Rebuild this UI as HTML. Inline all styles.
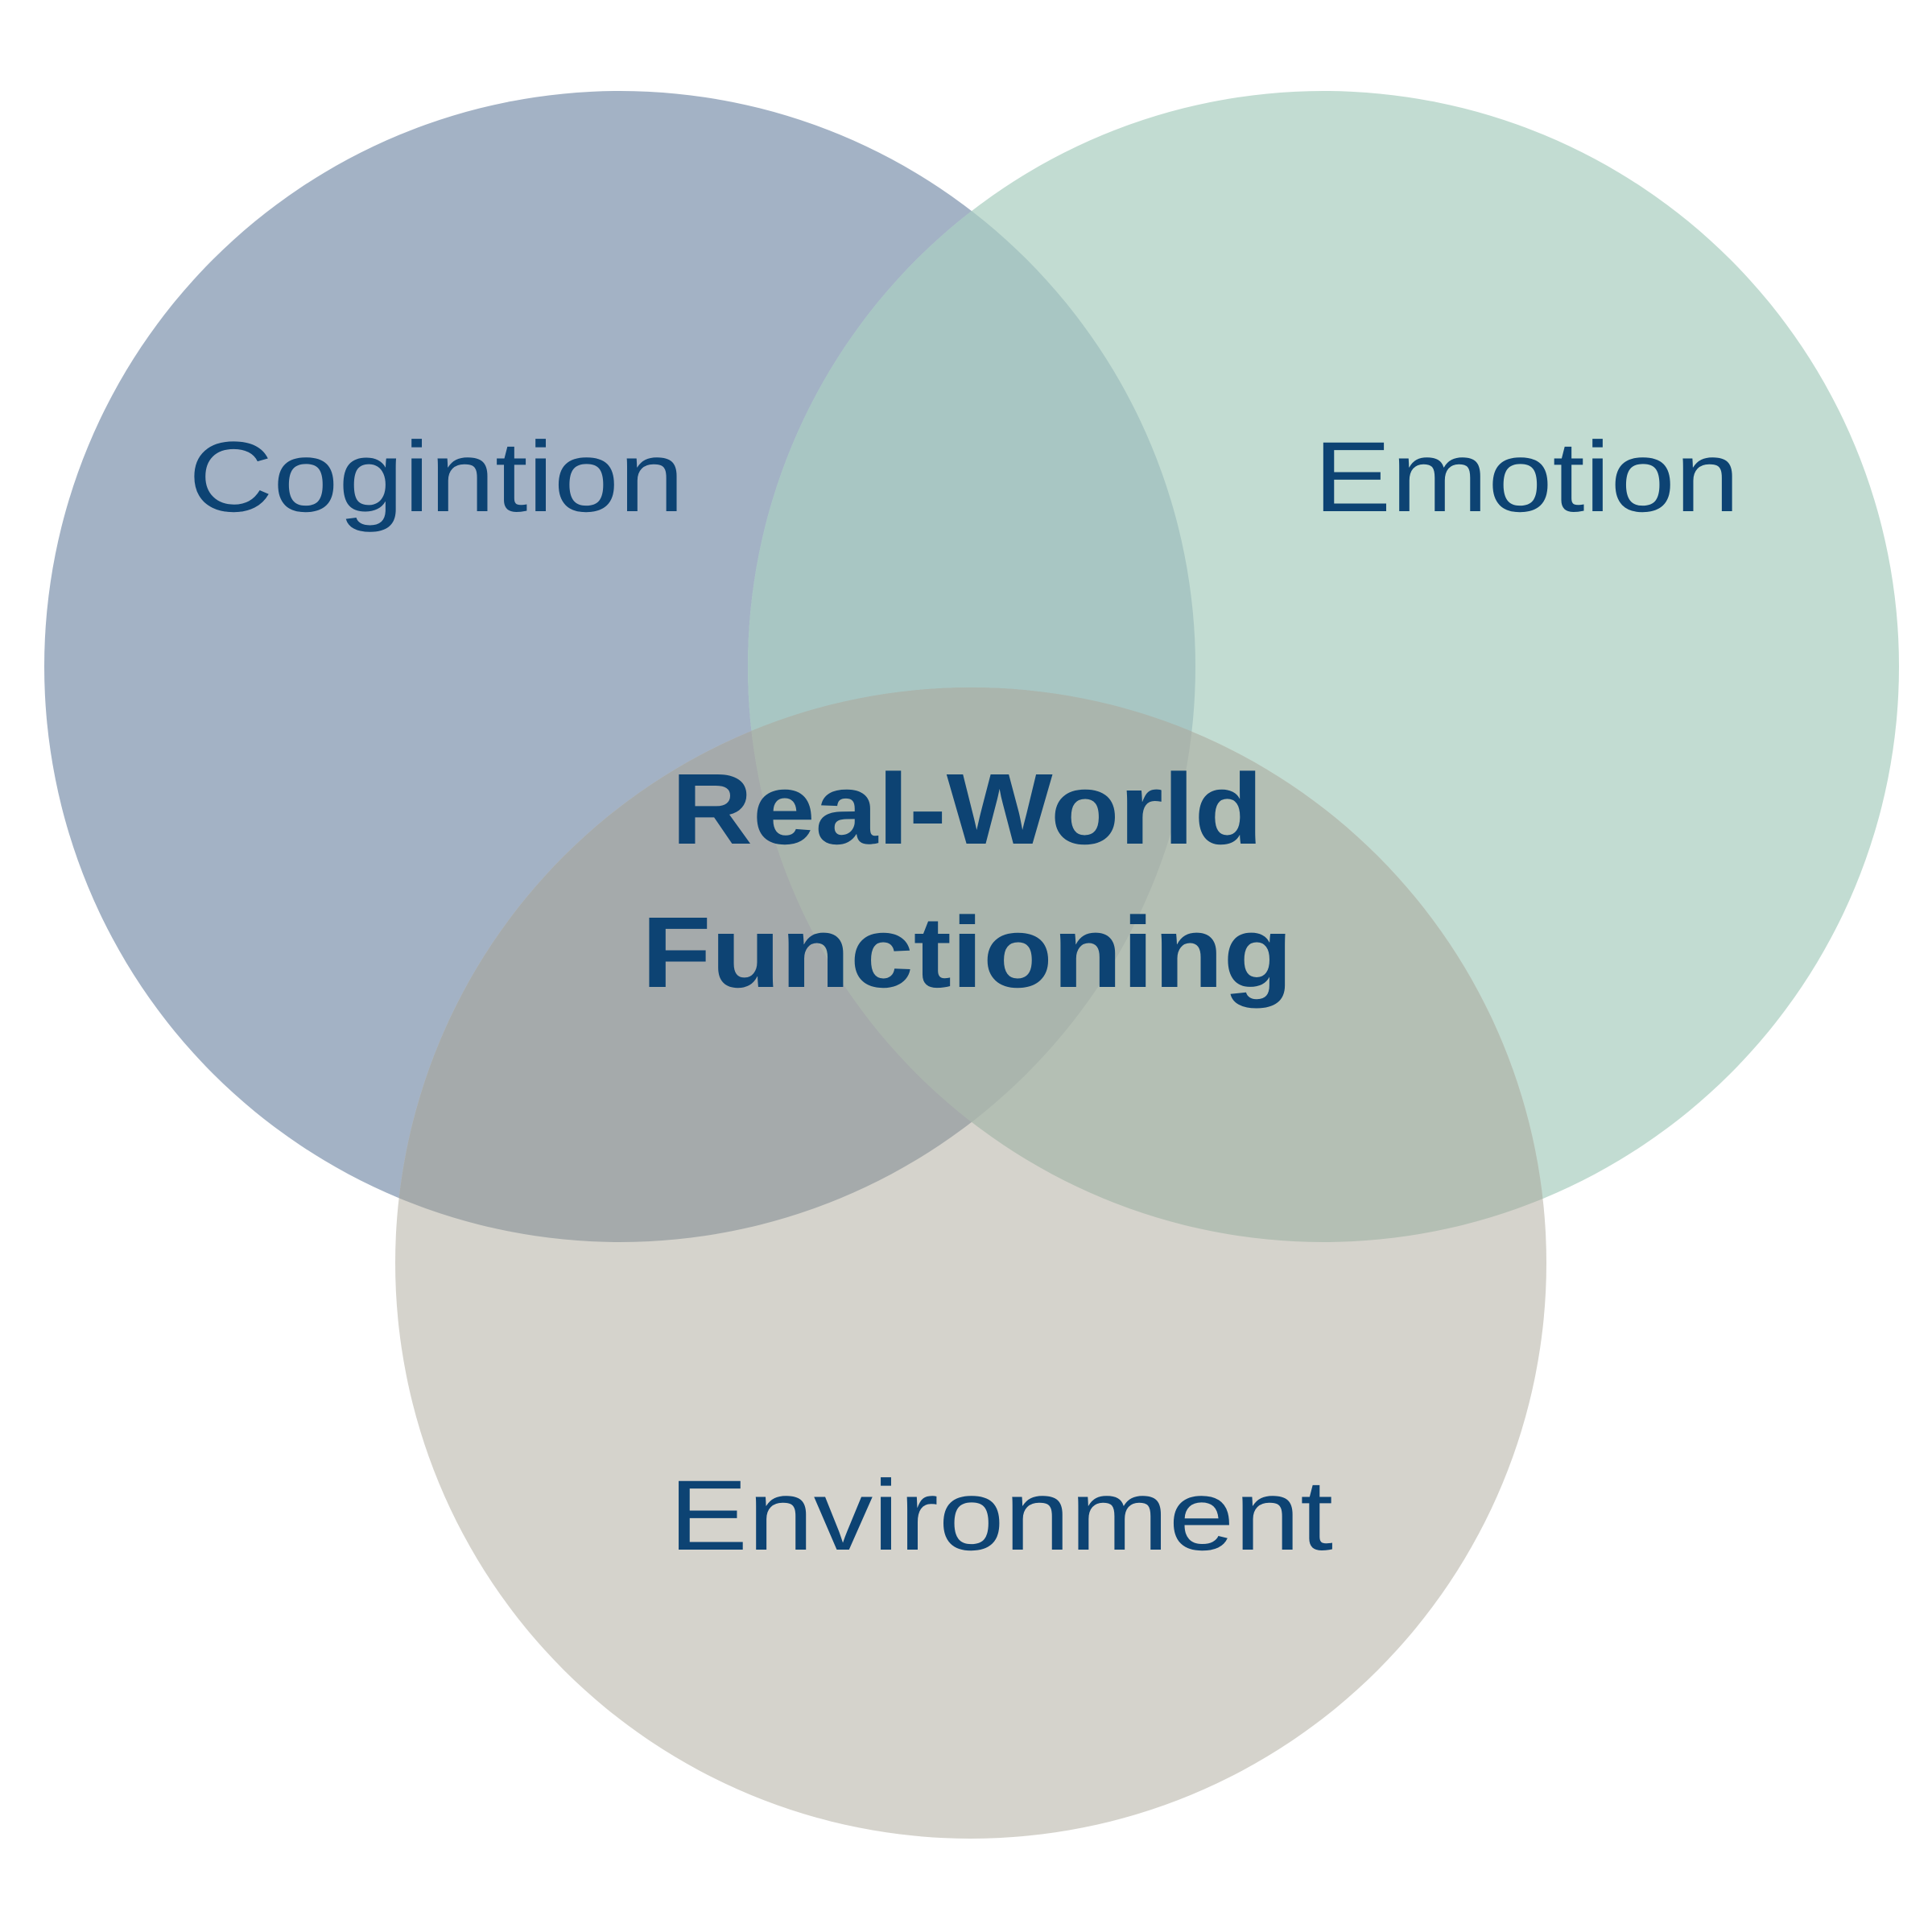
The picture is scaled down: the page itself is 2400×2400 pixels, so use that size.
<!DOCTYPE html>
<html><head><meta charset="utf-8"><style>
html,body{margin:0;padding:0;background:#fff;width:2400px;height:2400px;overflow:hidden}
</style></head><body>
<svg width="2400" height="2400" viewBox="0 0 2400 2400" xmlns="http://www.w3.org/2000/svg">
<defs>
<clipPath id="cb"><circle cx="770" cy="828" r="715"/></clipPath>
<clipPath id="cg"><circle cx="1644" cy="828" r="715"/></clipPath>
<clipPath id="ce"><circle cx="1206" cy="1569" r="715"/></clipPath>
</defs>
<rect width="2400" height="2400" fill="#fff"/>
<circle cx="770" cy="828" r="715" fill="#a3b2c5"/>
<circle cx="1644" cy="828" r="715" fill="#c2dcd2"/>
<circle cx="1206" cy="1569" r="715" fill="#d5d3cc"/>
<g clip-path="url(#cb)"><circle cx="1644" cy="828" r="715" fill="#a8c6c3"/></g>
<g clip-path="url(#cb)"><circle cx="1206" cy="1569" r="715" fill="#a5aaab"/></g>
<g clip-path="url(#cg)"><circle cx="1206" cy="1569" r="715" fill="#b4bfb4"/></g>
<g clip-path="url(#cb)"><g clip-path="url(#cg)"><circle cx="1206" cy="1569" r="715" fill="#aab5ad"/></g></g>
<g font-family="Liberation Sans, sans-serif" fill="#0d4373">
<text x="234" y="635" font-size="124" textLength="616" lengthAdjust="spacingAndGlyphs">Cogintion</text>
<text x="1632" y="635" font-size="124" textLength="529" lengthAdjust="spacingAndGlyphs">Emotion</text>
<text x="831" y="1925" font-size="124" textLength="825" lengthAdjust="spacingAndGlyphs">Environment</text>
<text x="834" y="1048" font-size="125" font-weight="bold" textLength="735" lengthAdjust="spacingAndGlyphs">Real-World</text>
<text x="797" y="1226" font-size="125" font-weight="bold" textLength="809" lengthAdjust="spacingAndGlyphs">Functioning</text>
</g>
</svg>
</body></html>
